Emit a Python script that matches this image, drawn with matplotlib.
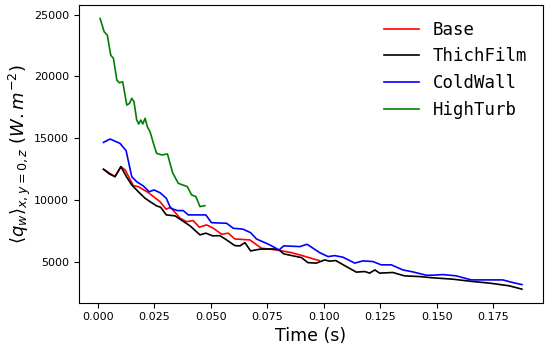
import matplotlib
matplotlib.use("Agg")
import matplotlib.pyplot as plt

# ── Data ──────────────────────────────────────────────────────────────────────

t_base = [0.0025, 0.0076, 0.0102, 0.0121, 0.0157, 0.0179, 0.0224, 0.0275, 0.0302,
          0.0322, 0.0364, 0.0393, 0.0422, 0.0449, 0.0481, 0.0511, 0.0548, 0.0577,
          0.0606, 0.0673, 0.0724, 0.0791, 0.0857, 0.0908, 0.0979]
q_base = [12480, 11880, 12690, 12420, 11150, 11070, 10580, 9850, 9240,
          9400, 8510, 8230, 8320, 7780, 7970, 7700, 7210, 7300,
          6830, 6750, 6080, 5940, 5720, 5460, 5080]

t_thin = [0.0025, 0.0051, 0.0076, 0.0102, 0.0128, 0.0150, 0.0179, 0.0209, 0.0238,
          0.0260, 0.0278, 0.0303, 0.0342, 0.0364, 0.0408, 0.0452, 0.0478, 0.0508,
          0.0540, 0.0570, 0.0606, 0.0629, 0.0651, 0.0676, 0.0717, 0.0776, 0.0802,
          0.0823, 0.0864, 0.0901, 0.0930, 0.0967, 0.1004, 0.1026, 0.1053, 0.1100,
          0.1144, 0.1181, 0.1203, 0.1226, 0.1247, 0.1306, 0.1357, 0.1424, 0.1482,
          0.1571, 0.1659, 0.1733, 0.1821, 0.1877]
q_thin = [12480, 12100, 11880, 12690, 11830, 11210, 10660, 10130, 9770,
          9510, 9400, 8780, 8700, 8430, 7890, 7160, 7300, 7080,
          7100, 6750, 6290, 6270, 6530, 5860, 6000, 6020, 5940,
          5620, 5460, 5320, 4910, 4870, 5130, 5030, 5080, 4590,
          4140, 4190, 4060, 4320, 4060, 4110, 3840, 3780, 3680,
          3570, 3380, 3250, 3030, 2760]

t_cold = [0.0025, 0.0054, 0.0098, 0.0125, 0.0150, 0.0172, 0.0201, 0.0227, 0.0249,
          0.0275, 0.0303, 0.0322, 0.0352, 0.0378, 0.0400, 0.0478, 0.0503, 0.0570,
          0.0599, 0.0643, 0.0676, 0.0702, 0.0761, 0.0802, 0.0823, 0.0894, 0.0926,
          0.0982, 0.1019, 0.1048, 0.1085, 0.1137, 0.1173, 0.1217, 0.1254, 0.1299,
          0.1350, 0.1394, 0.1453, 0.1482, 0.1527, 0.1586, 0.1652, 0.1792, 0.1836,
          0.1877]
q_cold = [14660, 14930, 14580, 13990, 11880, 11470, 11130, 10660, 10800,
          10580, 10130, 9320, 9130, 9130, 8780, 8780, 8150, 8100,
          7700, 7620, 7340, 6830, 6350, 5940, 6270, 6210, 6400,
          5720, 5400, 5480, 5350, 4870, 5050, 5000, 4730, 4730,
          4320, 4160, 3890, 3890, 3940, 3840, 3510, 3510, 3300,
          3130]

t_turb = [0.0010, 0.0028, 0.0042, 0.0057, 0.0069, 0.0084, 0.0095, 0.0110, 0.0128,
          0.0140, 0.0150, 0.0160, 0.0172, 0.0181, 0.0190, 0.0199, 0.0209, 0.0219,
          0.0231, 0.0246, 0.0260, 0.0283, 0.0308, 0.0331, 0.0356, 0.0375, 0.0396,
          0.0415, 0.0434, 0.0452, 0.0474]
q_turb = [24700, 23620, 23350, 21730, 21470, 19710, 19490, 19570, 17680,
          17820, 18230, 17950, 16470, 16150, 16470, 16150, 16610, 15930,
          15520, 14580, 13770, 13640, 13720, 12200, 11340, 11210, 11070,
          10400, 10260, 9450, 9530]

# ── Figure ────────────────────────────────────────────────────────────────────

fig = plt.figure(figsize=(5.48, 3.49), dpi=100)
ax = fig.add_axes([0.1442, 0.1327, 0.8467, 0.853])

ax.plot(t_base, q_base, color="red", lw=1.2, label="Base")
ax.plot(t_thin, q_thin, color="black", lw=1.2, label="ThichFilm")
ax.plot(t_cold, q_cold, color="blue", lw=1.2, label="ColdWall")
ax.plot(t_turb, q_turb, color="green", lw=1.2, label="HighTurb")

ax.set_xticks([0.0, 0.025, 0.05, 0.075, 0.1, 0.125, 0.15, 0.175])
ax.set_yticks([5000, 10000, 15000, 20000, 25000])
ax.tick_params(labelsize=8)

ax.set_xlabel("Time (s)", fontsize=12.5, labelpad=3)
ax.set_ylabel(r"$\langle q_w \rangle_{x,y=0,z}\ (W.m^{-2})$", fontsize=13, labelpad=1)

ax.legend(loc="upper right", frameon=False,
          prop={"family": "DejaVu Sans Mono", "size": 12.5})

fig.savefig("out.png", dpi=100)
